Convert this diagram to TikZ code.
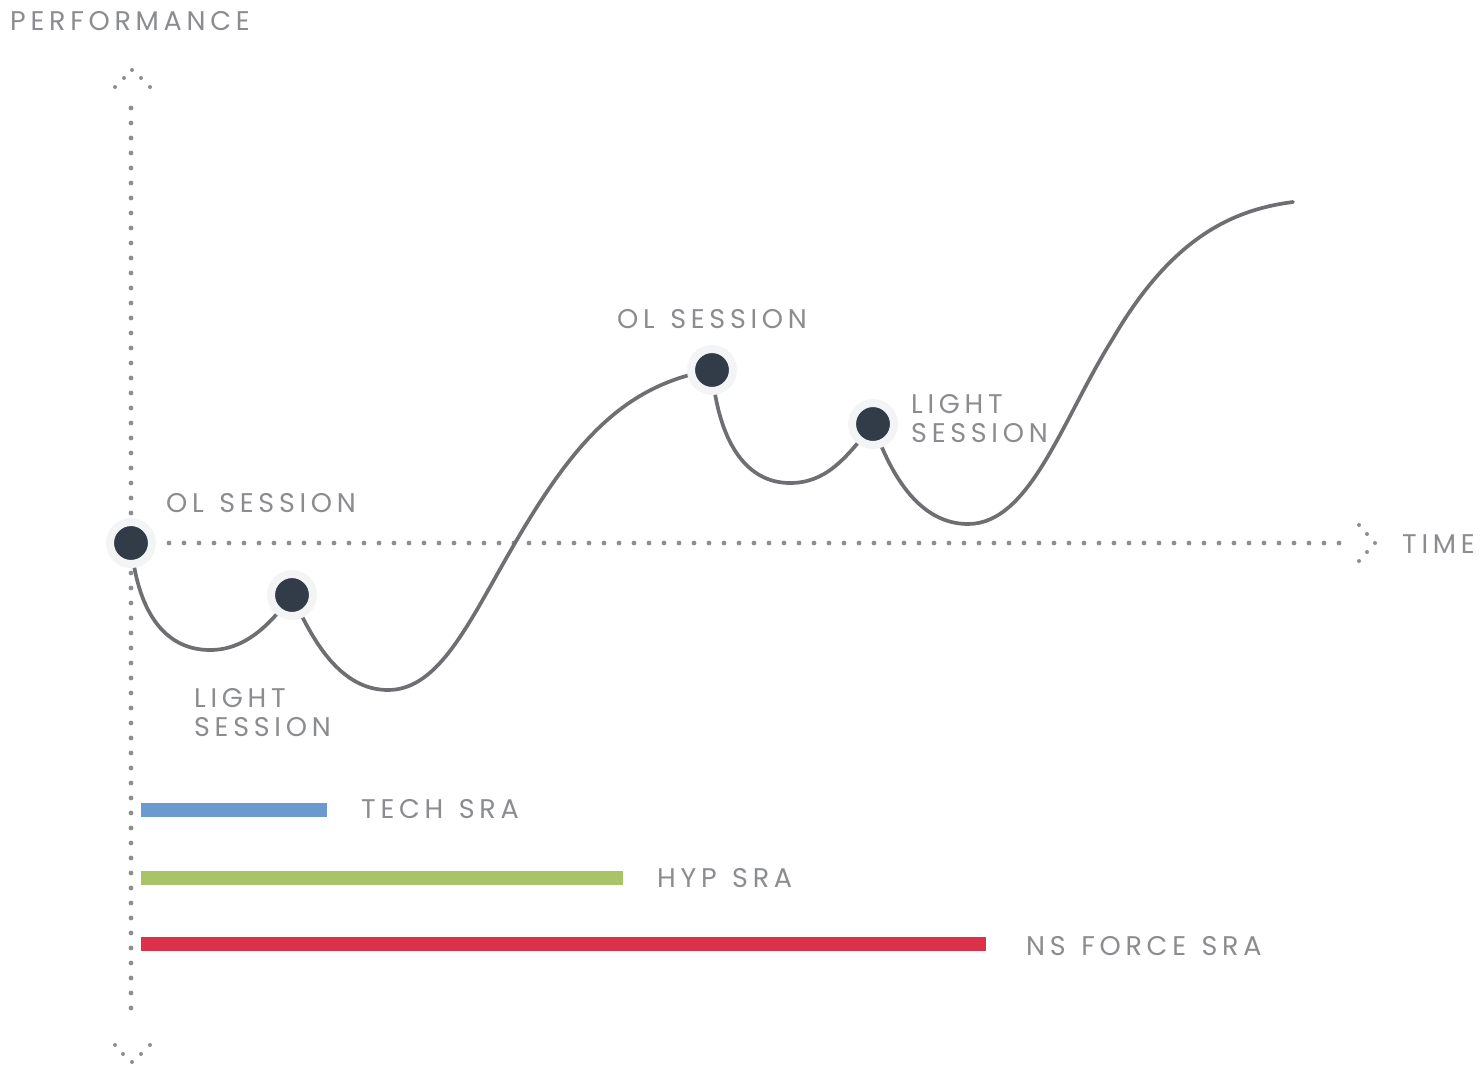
\documentclass[tikz,border=0pt]{standalone}
\usepackage{fontspec}
\newfontfamily\lab[LetterSpace=17.5,WordSpace=1.3]{Poppins}
\definecolor{txt}{HTML}{8A8C8F}
\definecolor{crv}{HTML}{6E6F73}
\definecolor{dotc}{HTML}{8E8E90}
\definecolor{nodec}{HTML}{323C48}
\definecolor{halo}{HTML}{F3F4F6}
\definecolor{blueb}{HTML}{6A9AD0}
\definecolor{greenb}{HTML}{A9C466}
\definecolor{redb}{HTML}{DB3249}
\tikzset{
  lbl/.style={anchor=base west, inner sep=0pt, text=txt, font=\lab\fontsize{27}{30}\selectfont},
  axdot/.style={fill=dotc, draw=none},
  sess/.style={circle, fill=nodec, minimum size=42pt, inner sep=0pt, draw=halo, line width=8pt},
  curve/.style={draw=crv, line width=3.7pt, line cap=round},
  bar/.style={line width=14pt}
}
\begin{document}
\begin{tikzpicture}[x=1pt,y=-1pt]
\useasboundingbox (0,0) rectangle (1482,1065);
% axes dots
\foreach \k in {0,...,60} {\fill[axdot] (131,108+15*\k) circle (2.4);}
\foreach \k in {0,...,78} {\fill[axdot] (169+15*\k,543) circle (2.4);}
% arrow chevrons
\foreach \p in {(115,87),(124,78),(132,70),(141,78),(150,87)} {\fill[axdot] \p circle (2.0);}
\foreach \p in {(115,1045),(123,1054),(132,1062),(141,1054),(150,1045)} {\fill[axdot] \p circle (2.0);}
\foreach \p in {(1359,525),(1367,534),(1375,543),(1367,552),(1359,561)} {\fill[axdot] \p circle (2.0);}
% curve
\coordinate (c1) at (131,543);
\coordinate (c2) at (292,595);
\coordinate (c3) at (712,370);
\coordinate (c4) at (873,424);
\coordinate (cend) at (1293,202);
\draw[curve] (c1) .. controls (138,620) and (170,650) .. (210,650)
  .. controls (245,650) and (270,625) .. (c2);
\draw[curve] (c2) .. controls (312,640) and (340,690) .. (388,690)
  .. controls (440,690) and (470,620) .. (515,543)
  .. controls (575,440) and (625,385) .. (c3);
\draw[curve] (c3) .. controls (718,440) and (745,483) .. (790,483)
  .. controls (825,483) and (845,460) .. (c4);
\draw[curve] (c4) .. controls (892,480) and (922,524) .. (968,524)
  .. controls (1030,524) and (1062,420) .. (1112,340)
  .. controls (1170,240) and (1230,210) .. (cend);
% session nodes
\node[sess] (n1) at (c1) {};
\node[sess] (n2) at (c2) {};
\node[sess] (n3) at (c3) {};
\node[sess] (n4) at (c4) {};
% bars
\draw[bar, blueb] (141,810) -- (327,810);
\draw[bar, greenb] (141,878) -- (623,878);
\draw[bar, redb] (141,944) -- (986,944);
% labels
\node[lbl] (tperf) at (10,31) {PERFORMANCE};
\node[lbl] (tol1) at (166,512) {OL SESSION};
\node[lbl] (tls1a) at (194,707) {LIGHT};
\node[lbl] (tls1b) at (194,736) {SESSION};
\node[lbl] (tol2) at (617,328) {OL SESSION};
\node[lbl] (tls2a) at (911,413) {LIGHT};
\node[lbl] (tls2b) at (911,442) {SESSION};
\node[lbl] (ttime) at (1402,553) {TIME};
\node[lbl] (ttech) at (361,818) {TECH SRA};
\node[lbl] (thyp) at (657,887) {HYP SRA};
\node[lbl] (tns) at (1026,955) {NS FORCE SRA};
\end{tikzpicture}
\end{document}
